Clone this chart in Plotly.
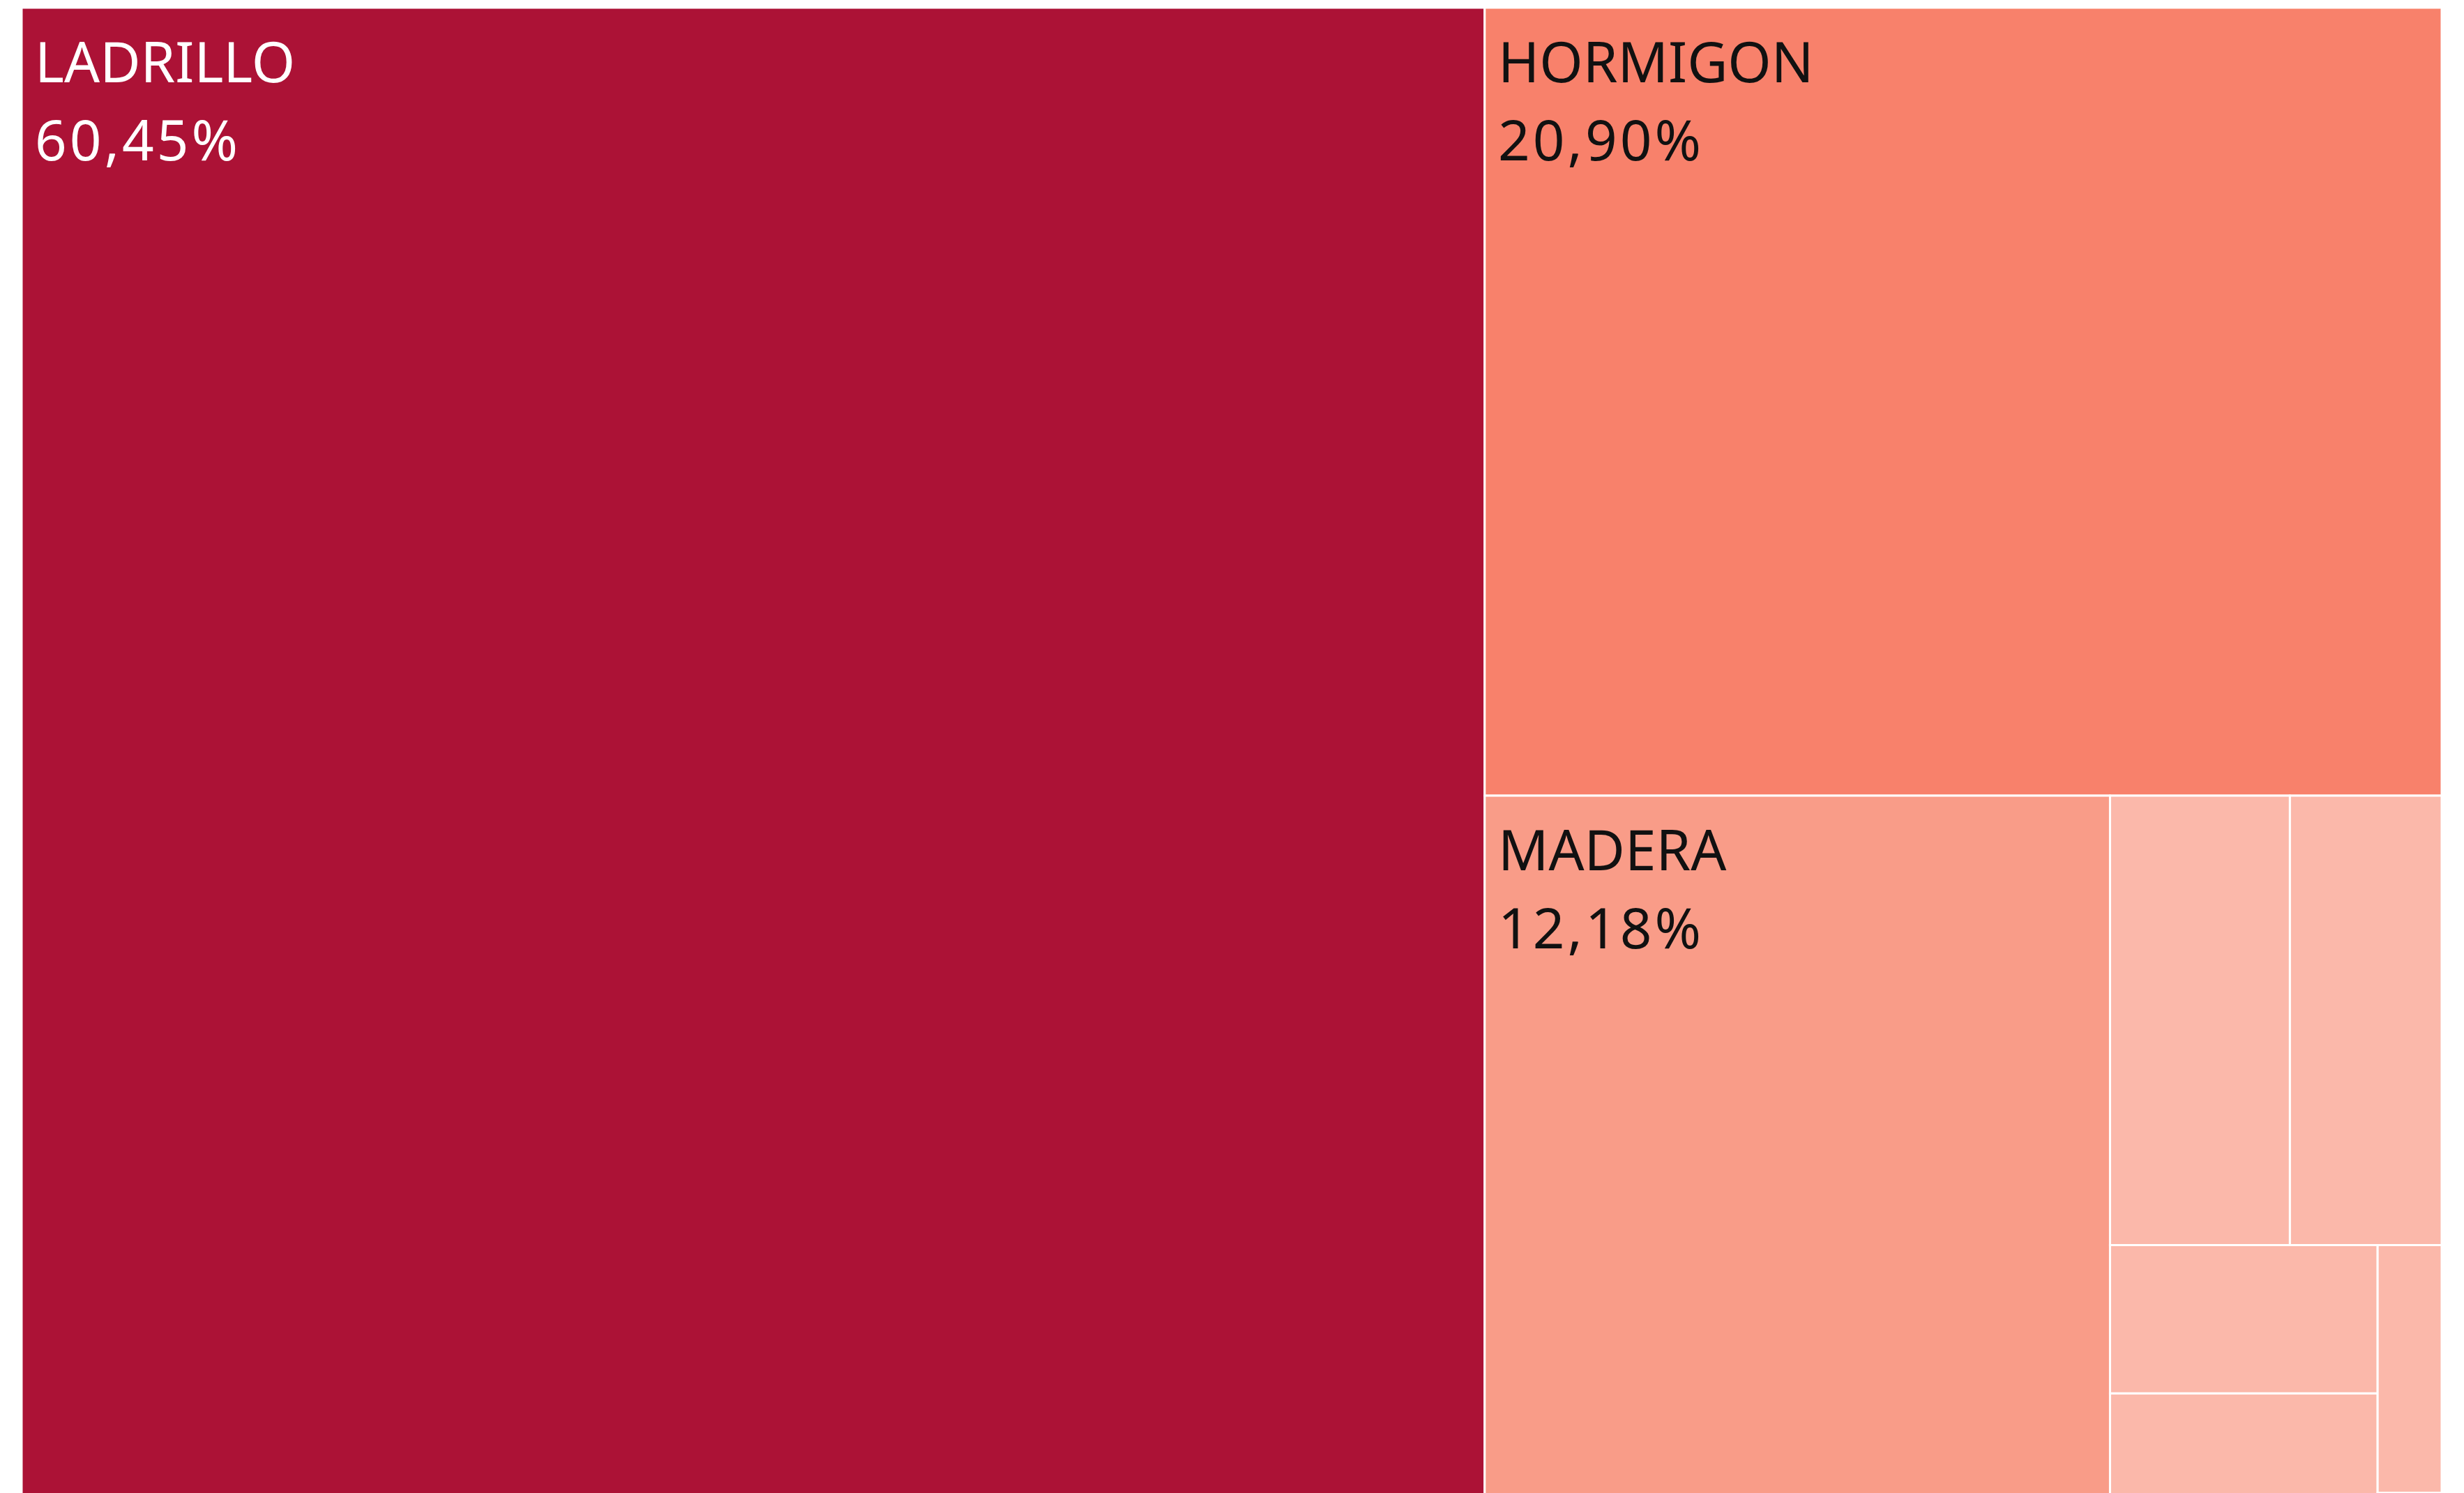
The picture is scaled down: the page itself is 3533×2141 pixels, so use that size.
"""Treemap de materiales de construcción (participación porcentual)."""

import plotly.graph_objects as go

materiales = ["LADRILLO", "HORMIGON", "MADERA", "OTRO 1", "OTRO 2", "OTRO 3", "OTRO 4", "OTRO 5", "OTRO 6"]
porcentajes = [60.45, 20.90, 12.18, 2.24, 1.89, 1.10, 0.78, 0.44, 0.01]
colores = ["#AC1236", "#F8816B", "#F99C88", "#FBB8AA", "#FBB8AA", "#FBB8AA", "#FBB8AA", "#FBB8AA", "#FBB8AA"]
colores_texto = ["#FFFFFF", "#111111", "#111111", "#111111", "#111111", "#111111", "#111111", "#111111", "#111111"]
mostrar_etiqueta = [True, True, True, False, False, False, False, False, False]

# separador que deja un margen interior arriba y a la izquierda del texto
ESPACIO = '<span style="font-size:97px">\u2009</span>'


def _etiqueta(nombre: str, valor: float, visible: bool) -> str:
    """Texto de la celda con coma decimal, vacío en las celdas pequeñas."""
    if not visible:
        return ""
    numero = f"{valor:.2f}%".replace(".", ",")
    return (
        f'{ESPACIO}<span style="font-size:80px">{nombre}</span><br>'
        f'{ESPACIO}<span style="font-size:80px;letter-spacing:4px">{numero}</span>'
    )


textos = [_etiqueta(n, v, m) for n, v, m in zip(materiales, porcentajes, mostrar_etiqueta)]

fig = go.Figure(
    go.Treemap(
        labels=materiales,
        parents=[""] * len(materiales),
        values=porcentajes,
        text=textos,
        texttemplate="%{text}",
        textposition="top left",
        textfont=dict(family="Noto Sans", size=86, color=colores_texto),
        marker=dict(
            colors=colores,
            line=dict(color="#FFFFFF", width=3),
            pad=dict(t=0, l=0, r=0, b=0),
        ),
        tiling=dict(packing="squarify", squarifyratio=1.618, pad=0),
        pathbar=dict(visible=False),
        sort=True,
        hoverinfo="label+value",
    )
)

fig.update_layout(
    width=3533,
    height=2141,
    margin=dict(l=23, r=40, t=3, b=0),
    paper_bgcolor="#FFFFFF",
)

fig.write_html("out.html")
